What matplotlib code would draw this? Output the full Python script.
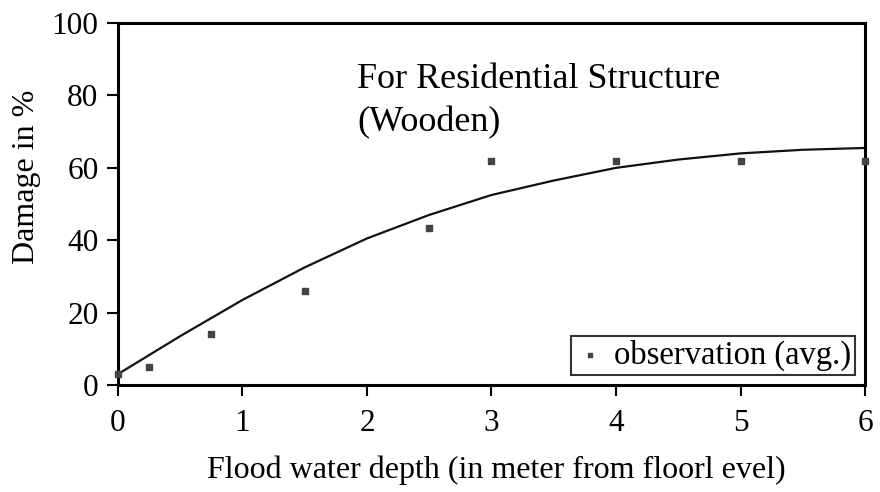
import numpy as np
import matplotlib.pyplot as plt

# observed average damage
obs_depth = [0, 0.25, 0.75, 1.5, 2.5, 3, 4, 5, 6]
obs_damage = [3, 5, 14, 26, 43.5, 62, 62, 62, 62]

# fitted damage curve
curve_depth = [0, 0.5, 1, 1.5, 2, 2.5, 3, 3.5, 4, 4.5, 5, 5.5, 6]
curve_damage = [3, 13.5, 23.5, 32.5, 40.5, 47, 52.5, 56.5, 60, 62.3, 64, 65, 65.5]

xticks = [0, 1, 2, 3, 4, 5, 6]
yticks = [0, 20, 40, 60, 80, 100]

plt.rcParams['font.family'] = ['Liberation Serif', 'DejaVu Serif']

fig = plt.figure(figsize=(8.8, 4.92), dpi=100)
ax = fig.add_axes([0.134, 0.2175, 0.849, 0.7355])

ax.plot(curve_depth, curve_damage, color='#111111', lw=1.6)
ax.scatter(obs_depth, obs_damage, marker='s', s=14, color='#444444',
           label='observation (avg.)', zorder=3, clip_on=False)

ax.set_xlim(0, 6)
ax.set_ylim(0, 100)
ax.set_xticks(xticks)
ax.set_yticks(yticks)
ax.tick_params(labelsize=22.5, width=1.5, length=8, direction='out', pad=6)
ax.tick_params(axis='x', pad=9)
for s in ax.spines.values():
    s.set_linewidth(2.2)

ax.set_xlabel('Flood water depth (in meter from floorl evel)', fontsize=23)
ax.set_ylabel('Damage in %', fontsize=23)
ax.xaxis.set_label_coords(0.507, -0.195)
ax.yaxis.set_label_coords(-0.103, 0.575)

ax.text(1.92, 82, 'For Residential Structure', fontsize=26, va='baseline')
ax.text(1.92, 70, '(Wooden)', fontsize=26, va='baseline')

leg = ax.legend(loc='lower right', fontsize=23.5, frameon=True, fancybox=False,
                handletextpad=0.3, handlelength=0.9, borderpad=0.12,
                borderaxespad=0.3, markerscale=0.7)
leg.get_frame().set_edgecolor('black')
leg.get_frame().set_linewidth(1.5)

fig.savefig('out.png', dpi=100)
